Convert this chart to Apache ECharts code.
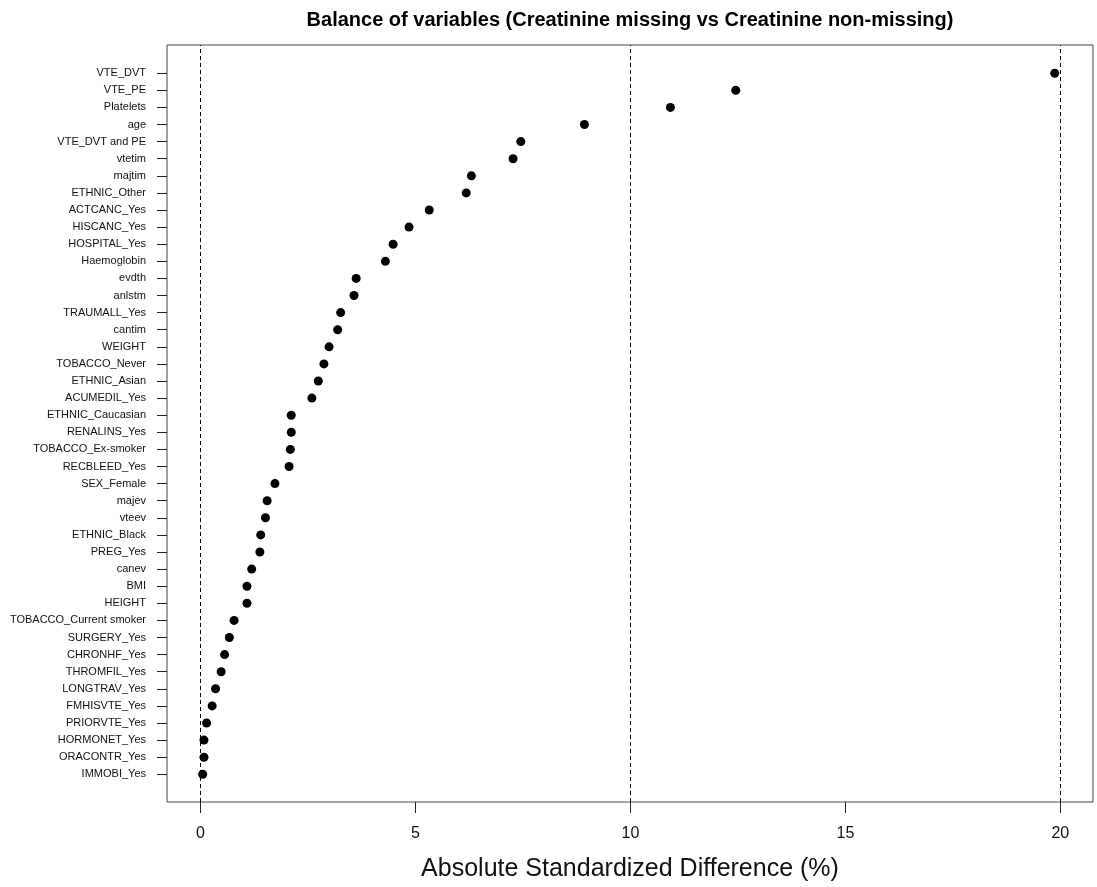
<!DOCTYPE html>
<html>
<head>
<meta charset="utf-8">
<title>Balance of variables</title>
<script src="https://cdn.jsdelivr.net/npm/echarts@6/dist/echarts.min.js"></script>
<style>
  html, body { margin: 0; padding: 0; background: #fff; }
  #main { width: 1097px; height: 887px; }
</style>
</head>
<body>
<div id="main"></div>
<script>
// variables, top to bottom
var varNames = ['VTE_DVT', 'VTE_PE', 'Platelets', 'age', 'VTE_DVT and PE', 'vtetim', 'majtim',
  'ETHNIC_Other', 'ACTCANC_Yes', 'HISCANC_Yes', 'HOSPITAL_Yes', 'Haemoglobin', 'evdth', 'anlstm',
  'TRAUMALL_Yes', 'cantim', 'WEIGHT', 'TOBACCO_Never', 'ETHNIC_Asian', 'ACUMEDIL_Yes',
  'ETHNIC_Caucasian', 'RENALINS_Yes', 'TOBACCO_Ex-smoker', 'RECBLEED_Yes', 'SEX_Female', 'majev',
  'vteev', 'ETHNIC_Black', 'PREG_Yes', 'canev', 'BMI', 'HEIGHT', 'TOBACCO_Current smoker',
  'SURGERY_Yes', 'CHRONHF_Yes', 'THROMFIL_Yes', 'LONGTRAV_Yes', 'FMHISVTE_Yes', 'PRIORVTE_Yes',
  'HORMONET_Yes', 'ORACONTR_Yes', 'IMMOBI_Yes'];
// absolute standardized difference (%)
var absDiff = [19.87, 12.45, 10.93, 8.93, 7.45, 7.27, 6.30, 6.18, 5.32, 4.85, 4.48, 4.30,
  3.62, 3.57, 3.26, 3.19, 2.99, 2.87, 2.74, 2.59, 2.11, 2.11, 2.09, 2.06, 1.73, 1.55,
  1.51, 1.40, 1.38, 1.19, 1.08, 1.08, 0.78, 0.67, 0.56, 0.48, 0.35, 0.27, 0.14, 0.08,
  0.08, 0.05];
var xTicks = [0, 5, 10, 15, 20];
var refLines = [0, 10, 20];

var n = varNames.length;
var rowPos = varNames.map(function (a, i) { return n - i; });
var points = absDiff.map(function (v, i) { return [v, rowPos[i]]; });

var chart = echarts.init(document.getElementById('main'), null, { renderer: 'canvas' });
chart.setOption({
  animation: false,
  backgroundColor: '#fff',
  title: {
    text: 'Balance of variables (Creatinine missing vs Creatinine non-missing)',
    left: 625,
    top: 5,
    textAlign: 'center',
    textStyle: { fontFamily: 'Liberation Sans', fontSize: 20, fontWeight: 'bold', color: '#000' }
  },
  grid: {
    left: 167, right: 4, top: 45, bottom: 84,
    show: true, borderColor: '#444', borderWidth: 1
  },
  xAxis: {
    type: 'value',
    min: -0.78, max: 20.76,
    name: 'Absolute Standardized Difference (%)',
    nameLocation: 'middle',
    nameGap: 55,
    nameTextStyle: { fontFamily: 'Liberation Sans', fontSize: 25, color: '#111' },
    axisLine: { show: false, onZero: false },
    splitLine: { show: false },
    axisTick: { show: true, inside: false, length: 11, customValues: xTicks, lineStyle: { color: '#222' } },
    axisLabel: {
      customValues: xTicks, margin: 24,
      fontFamily: 'Liberation Sans', fontSize: 16, color: '#111'
    }
  },
  yAxis: {
    type: 'value',
    min: -0.62, max: 43.65,
    axisLine: { show: false, onZero: false },
    splitLine: { show: false },
    axisTick: { show: true, inside: false, length: 10, customValues: rowPos, lineStyle: { color: '#222' } },
    axisLabel: {
      customValues: rowPos, margin: 21,
      fontFamily: 'Liberation Sans', fontSize: 11, color: '#111',
      formatter: function (v) { return varNames[n - Math.round(v)]; }
    }
  },
  series: [{
    type: 'scatter',
    data: points,
    symbol: 'circle',
    symbolSize: 9,
    itemStyle: { color: '#000', opacity: 1 },
    markLine: {
      silent: true,
      symbol: ['none', 'none'],
      label: { show: false },
      lineStyle: { color: '#000', type: [4, 3], width: 1 },
      data: refLines.map(function (x) { return { xAxis: x }; })
    }
  }]
});
</script>
</body>
</html>
